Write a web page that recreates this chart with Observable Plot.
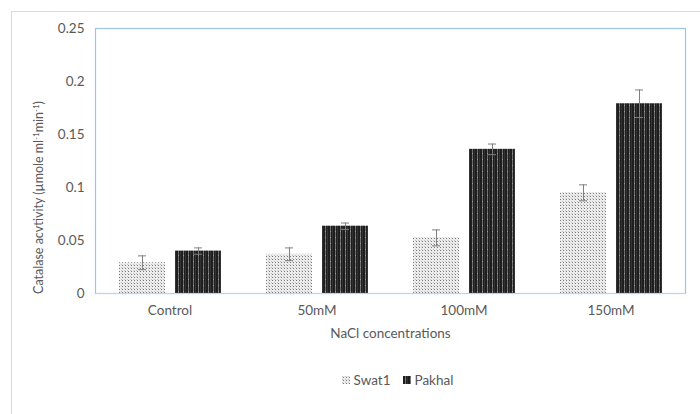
<!DOCTYPE html>
<html>
<head>
<meta charset="utf-8">
<script src="https://cdn.jsdelivr.net/npm/d3@7"></script>
<script src="https://cdn.jsdelivr.net/npm/@observablehq/plot@0.6"></script>
<style>
  body { margin: 0; background: #fff; font-family: Lato, "Open Sans", sans-serif; }
  #outer { position: absolute; left: 11px; top: 11px; width: 760px; height: 460px; border: 1px solid #d9d9d9; box-sizing: border-box; }
  #chart { position: absolute; left: 0; top: 0; }
  #legend { position: absolute; left: 0; top: 370px; width: 700px; height: 20px; display: flex; justify-content: center; align-items: center; font-size: 13.5px; color: #595959; padding-left: 95px; box-sizing: border-box; }
  #legend span.item { display: inline-flex; align-items: center; margin: 0 6px; }
  #legend svg { margin-right: 4px; }
</style>
</head>
<body>
<svg width="0" height="0" style="position:absolute">
  <defs>
    <pattern id="pat-swat" width="3" height="3" patternUnits="userSpaceOnUse">
      <rect width="3" height="3" fill="#ececec"/>
      <rect x="1" y="1" width="1" height="1" fill="#7a7a7a"/>
      <rect x="0" y="0" width="1" height="1" fill="#c4c4c4"/>
    </pattern>
    <pattern id="pat-pakhal" width="5" height="6" patternUnits="userSpaceOnUse">
      <rect width="5" height="6" fill="#1e1e1e"/>
      <rect x="2" y="0" width="1" height="6" fill="#707070"/>
      <rect x="2" y="3" width="1" height="1" fill="#9a9a9a"/>
      <rect x="4" y="0" width="1" height="6" fill="#333"/>
    </pattern>
  </defs>
</svg>
<div id="outer"></div>
<div id="chart"></div>
<div id="legend"></div>
<script>
// Catalase activity under NaCl stress for two cultivars
const categories = ["Control", "50mM", "100mM", "150mM"];
const series = ["Swat1", "Pakhal"];
const swat1 = [0.029, 0.037, 0.0525, 0.095];
const swat1Err = [0.0065, 0.006, 0.0075, 0.0075];
const pakhal = [0.040, 0.0635, 0.136, 0.179];
const pakhalErr = [0.003, 0.003, 0.005, 0.013];
const yTicks = [0, 0.05, 0.1, 0.15, 0.2, 0.25];
const seriesFills = ["url(#pat-swat)", "url(#pat-pakhal)"];

const rows = categories.flatMap((cat, i) => [
  {cat, series: "Swat1", value: swat1[i], err: swat1Err[i]},
  {cat, series: "Pakhal", value: pakhal[i], err: pakhalErr[i]}
]);

const textColor = "#595959";

const plot = Plot.plot({
  width: 700,
  height: 370,
  marginTop: 28,
  marginLeft: 95,
  marginRight: 15,
  marginBottom: 77,
  style: {fontFamily: "Lato, 'Open Sans', sans-serif", fontSize: "13.5px", color: textColor, background: "transparent"},
  fx: {domain: categories, paddingInner: 0, paddingOuter: 0},
  x: {domain: series, paddingInner: 0.18, paddingOuter: 0.4, axis: null},
  y: {domain: [0, 0.25]},
  color: {domain: series, range: seriesFills},
  marks: [
    Plot.axisFx({anchor: "bottom", tickSize: 0, tickPadding: 12, label: "NaCl concentrations", labelAnchor: "center", labelOffset: 44, fill: textColor}),
    Plot.axisY({ticks: yTicks, tickSize: 0, tickPadding: 12, tickFormat: d3.format("~g"), label: null, fill: textColor}),
    Plot.barY(rows, {fx: "cat", x: "series", y: "value", fill: "series"}),
    Plot.ruleX(rows, {fx: "cat", x: "series", y1: d => d.value - d.err, y2: d => d.value + d.err, stroke: "#808080", strokeWidth: 1}),
    Plot.tickY(rows, {fx: "cat", x: "series", y: d => d.value + d.err, stroke: "#808080", strokeWidth: 1, insetLeft: 19, insetRight: 19}),
    Plot.tickY(rows, {fx: "cat", x: "series", y: d => d.value - d.err, stroke: "#808080", strokeWidth: 1, insetLeft: 19, insetRight: 19})
  ]
});

// Plot-area border and baseline, spanning all facets
const [fx0, fx1] = plot.scale("fx").range;
const yScale = plot.scale("y");
const [yBottom, yTop] = yScale.range;
const svg = d3.select(plot);
svg.append("rect")
  .attr("x", fx0 + 0.5).attr("y", yTop + 0.5)
  .attr("width", fx1 - fx0).attr("height", yBottom - yTop)
  .attr("fill", "none").attr("stroke", "#9dc3e6").attr("stroke-width", 1.2);
svg.append("line")
  .attr("x1", fx0).attr("x2", fx1 + 1)
  .attr("y1", yScale.apply(0) + 0.5).attr("y2", yScale.apply(0) + 0.5)
  .attr("stroke", "#d0d0d0").attr("stroke-width", 1.2);

// Rotated y-axis title with superscript units
const title = svg.append("text")
  .attr("transform", `translate(43,${(yBottom + yTop) / 2 + 37}) rotate(-90)`)
  .attr("text-anchor", "middle")
  .attr("fill", textColor)
  .attr("font-size", 12.5);
title.append("tspan").text("Catalase acvtivity (µmole ml");
title.append("tspan").attr("dy", -4).attr("font-size", 8).text("-1");
title.append("tspan").attr("dy", 4).text("min");
title.append("tspan").attr("dy", -4).attr("font-size", 8).text("-1");
title.append("tspan").attr("dy", 4).text(")");

document.getElementById("chart").appendChild(plot);

// Legend
const legend = d3.select("#legend");
series.forEach((s, i) => {
  const item = legend.append("span").attr("class", "item");
  const sw = item.append("svg").attr("width", 8).attr("height", 8);
  sw.append("rect").attr("width", 8).attr("height", 8).attr("fill", seriesFills[i]);
  item.append("span").text(s);
});
</script>
</body>
</html>
